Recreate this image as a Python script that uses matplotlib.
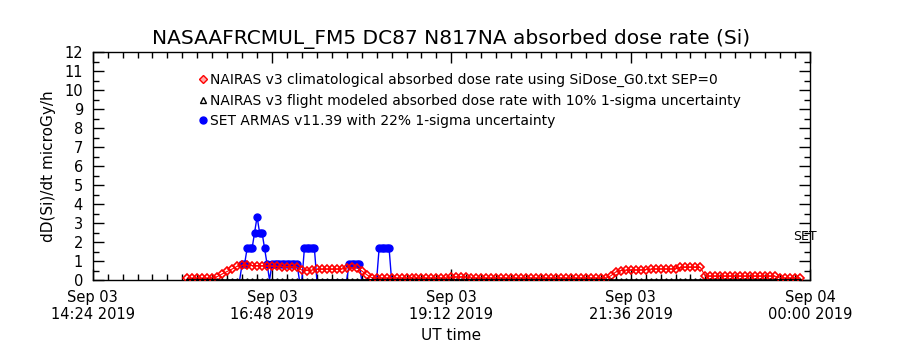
import numpy as np
import matplotlib
matplotlib.use("Agg")
import matplotlib.pyplot as plt
import matplotlib.dates as mdates
from matplotlib.lines import Line2D
from matplotlib.ticker import MultipleLocator, FixedLocator

# flight window shown on the x axis
t_start = np.datetime64("2019-09-03T14:24")
t_end = np.datetime64("2019-09-04T00:00")
tick_times = ["2019-09-03T14:24", "2019-09-03T16:48", "2019-09-03T19:12",
              "2019-09-03T21:36", "2019-09-04T00:00"]

# NAIRAS climatological dose rate (microGy/h), one value every 4 min,
# first value 76 min after 14:24
clim_first_min = 76
clim_step_min = 4
clim_vals = [
    0.08, 0.08, 0.08, 0.08, 0.08, 0.10,
    0.18, 0.32, 0.45, 0.58, 0.72,
    0.77, 0.77, 0.76, 0.76, 0.75, 0.74,
    0.72, 0.72, 0.71, 0.71, 0.70, 0.68,
    0.52, 0.50, 0.52,
    0.56, 0.57, 0.57, 0.57, 0.57, 0.58,
    0.64, 0.66, 0.65,
    0.48, 0.28, 0.12,
    0.10, 0.10, 0.10, 0.10, 0.10, 0.10, 0.10, 0.10, 0.10, 0.10,
    0.10, 0.10, 0.10, 0.10, 0.10,
    0.16, 0.16, 0.16, 0.16,
    0.10, 0.10, 0.10, 0.10, 0.10, 0.10, 0.10, 0.10, 0.10, 0.10,
    0.10, 0.10, 0.10, 0.10, 0.10, 0.10, 0.10, 0.10, 0.10, 0.10,
    0.10, 0.10, 0.10, 0.10, 0.10, 0.10, 0.10, 0.10,
    0.22, 0.42, 0.50,
    0.52, 0.52, 0.53, 0.53, 0.55, 0.57, 0.58, 0.58, 0.58, 0.58, 0.59,
    0.66, 0.67, 0.67, 0.67, 0.66,
    0.20, 0.20, 0.20, 0.20, 0.20, 0.20, 0.20, 0.20, 0.20, 0.20,
    0.20, 0.20, 0.20, 0.20, 0.20,
    0.10, 0.10, 0.10, 0.10, 0.10,
]

# NAIRAS flight modeled dose rate: flat at zero on the same 4 min grid
model_vals = [0.0] * len(clim_vals)

# SET ARMAS measurements (minutes after 14:24, microGy/h)
armas_min = [110, 112, 114, 116, 118, 120, 122, 124, 126, 128,
             130, 132, 134, 136, 138, 140, 142, 144, 146, 148,
             150, 152, 154, 156, 158, 160, 162, 164, 166, 168,
             170, 172, 174, 176, 178, 180, 182, 186, 190, 194,
             198, 202, 204, 206, 208, 210, 212, 214, 216, 220,
             224, 228, 230, 232, 234, 236, 238, 240, 244, 250]
armas_vals = [0.0, 0.0, 0.0, 0.0, 0.0, 0.85, 0.85, 1.67, 1.67, 1.67,
              2.5, 3.33, 2.5, 2.5, 1.67, 0.85, 0.0, 0.85, 0.85, 0.85,
              0.85, 0.85, 0.85, 0.85, 0.85, 0.85, 0.85, 0.85, 0.0, 0.0,
              1.67, 1.67, 1.67, 1.67, 1.67, 0.0, 0.0, 0.0, 0.0, 0.0,
              0.0, 0.0, 0.0, 0.85, 0.85, 0.85, 0.85, 0.85, 0.0, 0.0,
              0.0, 0.0, 1.67, 1.67, 1.67, 1.67, 1.67, 0.0, 0.0, 0.0]

legend_labels = [
    "NAIRAS v3 climatological absorbed dose rate using SiDose_G0.txt SEP=0",
    "NAIRAS v3 flight modeled absorbed dose rate with 10% 1-sigma uncertainty",
    "SET ARMAS v11.39 with 22% 1-sigma uncertainty",
]


def to_time(minutes):
    return t_start + np.array(minutes, dtype="timedelta64[m]")


clim_min = clim_first_min + clim_step_min * np.arange(len(clim_vals))
clim_t = to_time(clim_min)
armas_t = to_time(armas_min)
# zero readings sit under the baseline, only the nonzero ones get a dot
armas_marks = [i for i, v in enumerate(armas_vals) if v > 0]

fig = plt.figure(figsize=(9, 3.5), dpi=100)
ax = fig.add_axes([0.103, 0.2, 0.797, 0.651])

ax.plot(armas_t, armas_vals, "-", color="#0000ff", lw=1.0,
        marker="o", ms=5, mec="#0000ff", mfc="#0000ff",
        markevery=armas_marks, zorder=2)
ax.plot(clim_t, clim_vals, "-", color="#ff0000", lw=0.8,
        marker="D", ms=4.2, mec="#ff0000", mfc="none", mew=1.2, zorder=3)
ax.plot(clim_t, model_vals, "-", color="black", lw=1.2,
        marker="^", ms=2.5, mec="black", mfc="black", zorder=4)

ax.set_xlim(t_start, t_end)
ax.set_ylim(0, 12)

ax.xaxis.set_major_locator(FixedLocator(
    mdates.date2num(np.array(tick_times, dtype="datetime64[m]"))))
ax.xaxis.set_major_formatter(mdates.DateFormatter("%b %d\n%H:%M %Y"))
ax.xaxis.set_minor_locator(MultipleLocator(12 / 1440))
ax.yaxis.set_major_locator(MultipleLocator(1))
ax.yaxis.set_minor_locator(MultipleLocator(0.5))

ax.tick_params(which="both", direction="in", top=True, right=True,
               width=1, labelsize=10.5, pad=7)
ax.tick_params(which="major", length=8)
ax.tick_params(which="minor", length=4)
for lab in ax.get_xticklabels():
    lab.set_multialignment("center")
for s in ax.spines.values():
    s.set_linewidth(1)

ax.set_title("NASAAFRCMUL_FM5 DC87 N817NA absorbed dose rate (Si)",
             fontsize=14.5, pad=6)
ax.set_xlabel("UT time", fontsize=11, labelpad=4)
ax.set_ylabel("dD(Si)/dt microGy/h", fontsize=11, labelpad=6)

ax.text(0.977, 0.19, "SET", transform=ax.transAxes, fontsize=9,
        ha="left", va="center")

handles = [
    Line2D([], [], ls="none", marker="D", ms=4, mec="#ff0000", mfc="#ffaaaa"),
    Line2D([], [], ls="none", marker="^", ms=5, mec="black", mfc="white"),
    Line2D([], [], ls="none", marker="o", ms=5, mec="#0000ff", mfc="#0000ff"),
]
ax.legend(handles, legend_labels, loc="upper left",
          bbox_to_anchor=(0.14, 0.932), frameon=False, fontsize=10,
          handlelength=0.6, handletextpad=0.2, labelspacing=0.45,
          borderaxespad=0)

fig.savefig("out.png", dpi=100)
